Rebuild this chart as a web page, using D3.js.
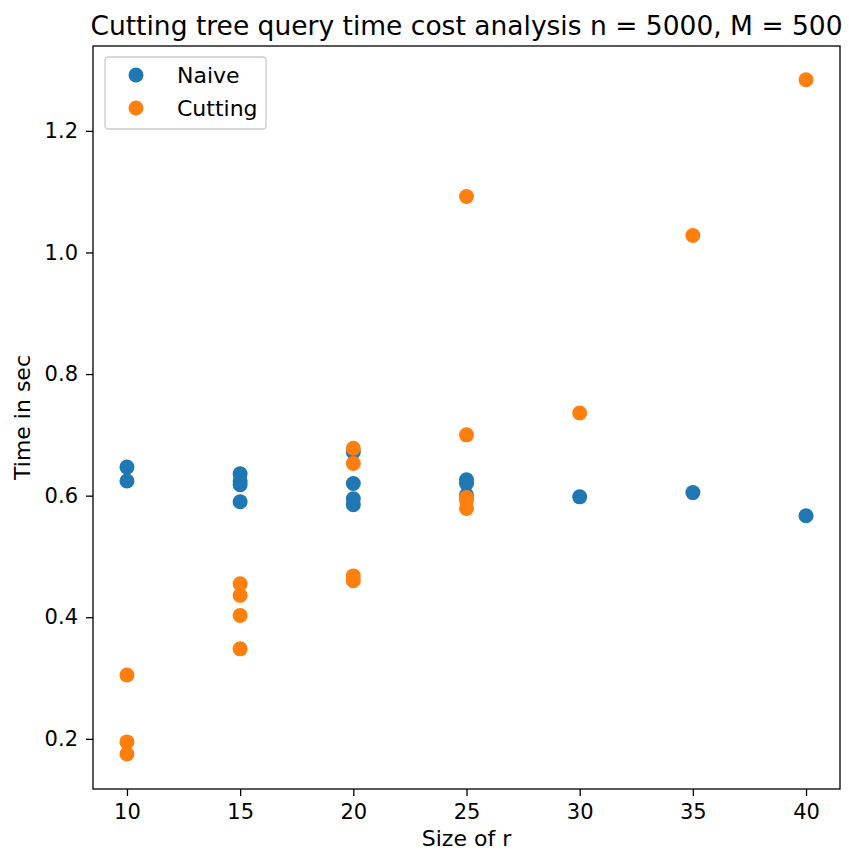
<!DOCTYPE html>
<html>
<head>
<meta charset="utf-8">
<script src="https://cdn.jsdelivr.net/npm/d3@7"></script>
<style>
  body { margin: 0; background: #fff; }
  svg text { font-family: "DejaVu Sans", sans-serif; fill: #000; }
</style>
</head>
<body>
<div id="chart"></div>
<script>
// values
const naiveR = [10, 10, 15, 15, 15, 15, 20, 20, 20, 20, 25, 25, 25, 30, 35, 40];
const naiveTime = [0.647, 0.624, 0.636, 0.624, 0.618, 0.590, 0.672, 0.620, 0.595, 0.585, 0.626, 0.620, 0.601, 0.598, 0.605, 0.567];

const cuttingR = [10, 10, 10, 15, 15, 15, 15, 20, 20, 20, 20, 25, 25, 25, 25, 25, 30, 35, 40];
const cuttingTime = [0.305, 0.195, 0.175, 0.455, 0.436, 0.403, 0.348, 0.678, 0.653, 0.468, 0.460, 1.092, 0.700, 0.597, 0.592, 0.579, 0.736, 1.028, 1.284];

const xTicks = [10, 15, 20, 25, 30, 35, 40];
const yTicks = [0.2, 0.4, 0.6, 0.8, 1.0, 1.2];

const series = [
    { name: "Naive", color: "#1f77b4", r: naiveR, t: naiveTime },
    { name: "Cutting", color: "#ff7f0e", r: cuttingR, t: cuttingTime }
];

const width = 849, height = 854;
const margin = { top: 46, right: 9, bottom: 65, left: 93 };
const innerW = width - margin.left - margin.right;
const innerH = height - margin.top - margin.bottom;

const svg = d3.select("#chart").append("svg")
    .attr("width", width).attr("height", height);

const x = d3.scaleLinear().domain([8.5, 41.5]).range([0, innerW]);
const y = d3.scaleLinear().domain([0.1175, 1.3396]).range([innerH, 0]);

const chart = svg.append("g")
    .attr("transform", `translate(${margin.left},${margin.top})`);

// points, naive first so cutting sits on top
series.forEach(s => {
    chart.append("g").selectAll("circle")
        .data(s.r.map((r, i) => ({ r: r, t: s.t[i] })))
        .enter().append("circle")
        .attr("cx", d => x(d.r))
        .attr("cy", d => y(d.t))
        .attr("r", 7.5)
        .attr("fill", s.color);
});

const xAxis = chart.append("g")
    .attr("transform", `translate(0,${innerH})`)
    .call(d3.axisBottom(x).tickValues(xTicks).tickSize(7).tickPadding(8).tickFormat(d3.format("d")));
const yAxis = chart.append("g")
    .call(d3.axisLeft(y).tickValues(yTicks).tickSize(7).tickPadding(8).tickFormat(d3.format(".1f")));

[xAxis, yAxis].forEach(a => {
    a.select(".domain").remove();
    a.selectAll(".tick line").attr("stroke", "#000").attr("stroke-width", 1.3);
    a.selectAll(".tick text").style("font-size", "21px").style("font-family", "DejaVu Sans");
});

// frame
chart.append("rect")
    .attr("width", innerW).attr("height", innerH)
    .attr("fill", "none").attr("stroke", "#000").attr("stroke-width", 1.3);

// title and labels
svg.append("text")
    .attr("x", margin.left + innerW / 2).attr("y", 35)
    .attr("text-anchor", "middle").style("font-size", "26.5px")
    .text("Cutting tree query time cost analysis n = 5000, M = 500");

svg.append("text")
    .attr("x", margin.left + innerW / 2).attr("y", 846)
    .attr("text-anchor", "middle").style("font-size", "22px")
    .text("Size of r");

svg.append("text")
    .attr("transform", `translate(30,${margin.top + innerH / 2}) rotate(-90)`)
    .attr("text-anchor", "middle").style("font-size", "22px")
    .text("Time in sec");

// legend
const legend = svg.append("g").attr("transform", "translate(105,57)");
legend.append("rect")
    .attr("width", 161).attr("height", 72).attr("rx", 3)
    .attr("fill", "#fff").attr("fill-opacity", 0.8)
    .attr("stroke", "#ccc").attr("stroke-width", 1.3);
series.forEach((s, i) => {
    legend.append("circle")
        .attr("cx", 31).attr("cy", 18 + i * 33).attr("r", 7.5).attr("fill", s.color);
    legend.append("text")
        .attr("x", 72).attr("y", 18 + i * 33).attr("dy", "0.35em")
        .style("font-size", "22px").text(s.name);
});
</script>
</body>
</html>
